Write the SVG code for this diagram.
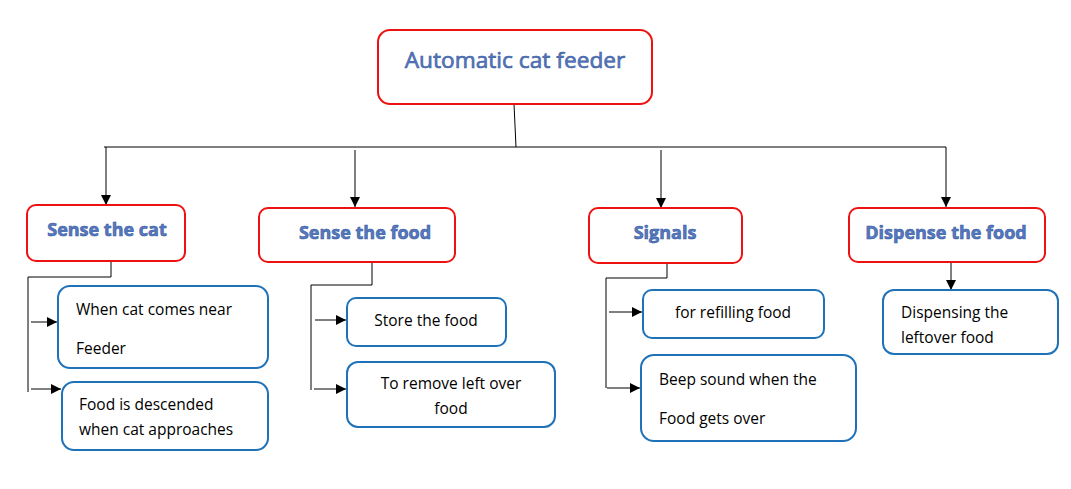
<svg xmlns="http://www.w3.org/2000/svg" width="1071" height="489" viewBox="0 0 1071 489">
<defs>
<marker id="ah" viewBox="0 0 10 10" refX="10" refY="5" markerWidth="10" markerHeight="10" markerUnits="userSpaceOnUse" orient="auto">
<path d="M0,0 L10,5 L0,10 Z" fill="#000"/>
</marker>
<style>
.main{fill:#fff;stroke:#ee1111;stroke-width:2}
.sub{fill:#fff;stroke:#1f72b8;stroke-width:2}
.h{font-family:"Open Sans","Liberation Sans",sans-serif;fill:#5579c2;stroke:#3a5a9c;stroke-width:0.6;text-anchor:middle}
.t{font-family:"Open Sans","Liberation Sans",sans-serif;font-size:15.5px;fill:#000}
.c{text-anchor:middle}
.ln{fill:none;stroke:#000;stroke-width:1}
.ar{fill:none;stroke:#000;stroke-width:1;marker-end:url(#ah)}
</style>
</defs>
<rect width="1071" height="489" fill="#fff"/>
<g id="connectors">
<path class="ln" d="M514,104 L516,147"/>
<path class="ln" d="M104,147 H946"/>
<path class="ar" d="M106,147 V205"/>
<path class="ar" d="M355,150 V207"/>
<path class="ar" d="M661,150 V208"/>
<path class="ar" d="M946,147 V207"/>
<path class="ln" d="M111,262 V277 H28 V392"/>
<path class="ar" d="M31,322 H57"/>
<path class="ar" d="M31,389 H61"/>
<path class="ln" d="M372,262 V285 H311 V390"/>
<path class="ar" d="M315,320 H346"/>
<path class="ar" d="M314,389 H346"/>
<path class="ln" d="M667,263 V278 H606 V388"/>
<path class="ar" d="M609,312 H642"/>
<path class="ar" d="M607,388 H640"/>
<path class="ar" d="M951,262 V290"/>
</g>
<g id="root">
<rect class="main" x="378" y="30" width="274" height="74" rx="12"/>
<text class="h" x="515" y="68" font-size="22.7">Automatic cat feeder</text>
</g>
<g id="sense-cat">
<rect class="main" x="27" y="205" width="158" height="56" rx="9"/>
<text class="h" x="107" y="236" font-size="18" font-weight="bold">Sense the cat</text>
</g>
<g id="sense-food">
<rect class="main" x="259" y="208" width="196" height="54" rx="9"/>
<text class="h" x="365" y="239" font-size="18" font-weight="bold">Sense the food</text>
</g>
<g id="signals">
<rect class="main" x="589" y="208" width="153" height="55" rx="9"/>
<text class="h" x="665" y="239" font-size="18" font-weight="bold">Signals</text>
</g>
<g id="dispense">
<rect class="main" x="849" y="208" width="196" height="54" rx="9"/>
<text class="h" x="946" y="239" font-size="18" font-weight="bold">Dispense the food</text>
</g>
<g id="cat-near">
<rect class="sub" x="58" y="286" width="210" height="82" rx="12"/>
<text class="t" x="76" y="315">When cat comes near</text>
<text class="t" x="76" y="354">Feeder</text>
</g>
<g id="food-descended">
<rect class="sub" x="62" y="382" width="206" height="68" rx="12"/>
<text class="t" x="79" y="410">Food is descended</text>
<text class="t" x="79" y="435">when cat approaches</text>
</g>
<g id="store-food">
<rect class="sub" x="347" y="298" width="159" height="48" rx="9"/>
<text class="t c" x="426" y="326">Store the food</text>
</g>
<g id="remove-food">
<rect class="sub" x="347" y="362" width="208" height="65" rx="11"/>
<text class="t c" x="451" y="389">To remove left over</text>
<text class="t c" x="451" y="414">food</text>
</g>
<g id="refilling">
<rect class="sub" x="643" y="290" width="181" height="48" rx="9"/>
<text class="t c" x="733" y="318">for refilling food</text>
</g>
<g id="beep">
<rect class="sub" x="641" y="355" width="215" height="86" rx="13"/>
<text class="t" x="659" y="385">Beep sound when the</text>
<text class="t" x="659" y="424">Food gets over</text>
</g>
<g id="dispensing">
<rect class="sub" x="883" y="290" width="175" height="64" rx="11"/>
<text class="t" x="901" y="318">Dispensing the</text>
<text class="t" x="901" y="343">leftover food</text>
</g>
</svg>
